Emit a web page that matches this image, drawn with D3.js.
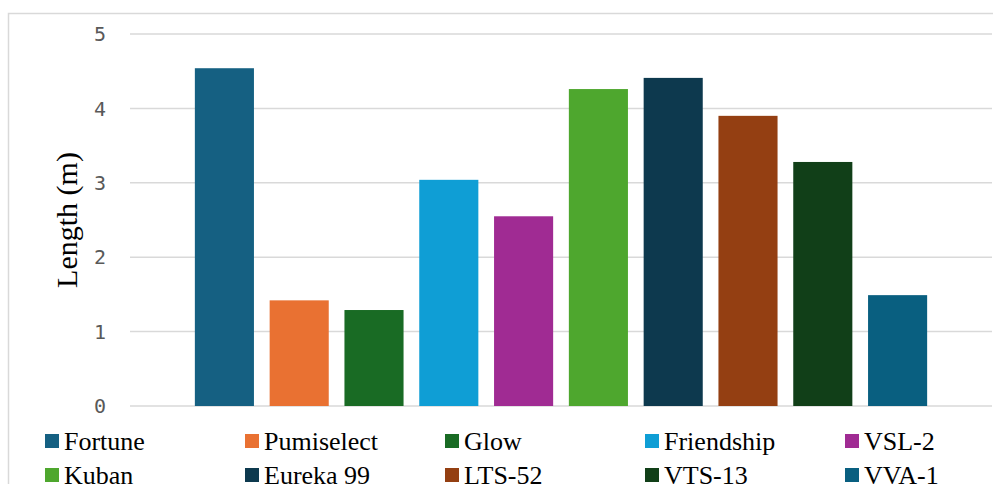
<html lang="en">
  <head>
    <meta charset="utf-8" />
    <title>Length by variety</title>
    <style>
     body {
       margin: 0;
       background: #fff;
     }
     .serif {
       font-family: "Liberation Serif", "Times New Roman", serif;
     }
    </style>
  </head>
  <body>
    <div id="chart"></div>
    <script src="https://d3js.org/d3.v7.min.js"></script>
    <script>

     // data
     var varieties = ["Fortune", "Pumiselect", "Glow", "Friendship", "VSL-2",
                      "Kuban", "Eureka 99", "LTS-52", "VTS-13", "VVA-1"];
     var lengths = [4.54, 1.42, 1.29, 3.04, 2.55, 4.26, 4.41, 3.90, 3.28, 1.49];
     var colors = ["#156082", "#E97132", "#196B24", "#0F9ED5", "#A02B93",
                   "#4EA72E", "#0D394E", "#943F12", "#113F18", "#095F80"];
     var yTicks = [0, 1, 2, 3, 4, 5];

     var width = 993, height = 484;

     var svg = d3.select("#chart")
                 .append("svg")
                 .attr("width", width)
                 .attr("height", height);

     // outer chart frame (runs past the right and bottom edges)
     svg.append("rect")
        .attr("x", 8.5)
        .attr("y", 13.5)
        .attr("width", 1000)
        .attr("height", 500)
        .attr("fill", "none")
        .attr("stroke", "#d9d9d9")
        .attr("stroke-width", 1.5);

     var x = d3.scaleBand()
               .domain(varieties)
               .range([187, 935])
               .paddingInner(0.21)
               .paddingOuter(0.105);

     var y = d3.scaleLinear()
               .domain([0, 5])
               .range([406, 34]);

     // grid lines
     svg.append("g")
        .selectAll("line")
        .data(yTicks)
        .enter()
        .append("line")
        .attr("x1", 130)
        .attr("x2", 992)
        .attr("y1", function(d) { return y(d); })
        .attr("y2", function(d) { return y(d); })
        .attr("stroke", "#d9d9d9")
        .attr("stroke-width", 1.5);

     // y tick labels
     svg.append("g")
        .selectAll("text")
        .data(yTicks)
        .enter()
        .append("text")
        .attr("x", 106)
        .attr("y", function(d) { return y(d); })
        .attr("dy", "0.36em")
        .attr("text-anchor", "end")
        .attr("font-family", "DejaVu Sans Mono")
        .attr("font-size", 20)
        .attr("fill", "#595959")
        .text(function(d) { return d; });

     // bars
     svg.append("g")
        .selectAll("rect")
        .data(varieties)
        .enter()
        .append("rect")
        .attr("x", function(d) { return x(d); })
        .attr("y", function(d, i) { return y(lengths[i]); })
        .attr("width", x.bandwidth())
        .attr("height", function(d, i) { return y(0) - y(lengths[i]); })
        .attr("fill", function(d, i) { return colors[i]; });

     // y axis title
     svg.append("text")
        .attr("class", "serif")
        .attr("transform", "translate(77,220) rotate(-90)")
        .attr("text-anchor", "middle")
        .attr("font-size", 30)
        .attr("fill", "#000")
        .text("Length (m)");

     // legend, 5 per row
     var legend = svg.append("g")
                     .selectAll("g")
                     .data(varieties)
                     .enter()
                     .append("g")
                     .attr("transform", function(d, i) {
                       return "translate(" + (45 + (i % 5) * 200) + "," + (434 + Math.floor(i / 5) * 34) + ")";
                     });

     legend.append("rect")
           .attr("width", 14)
           .attr("height", 14)
           .attr("fill", function(d, i) { return colors[i]; });

     legend.append("text")
           .attr("class", "serif")
           .attr("x", 19)
           .attr("y", 16)
           .attr("font-size", 26)
           .attr("fill", "#000")
           .text(function(d) { return d; });

    </script>
  </body>
</html>
